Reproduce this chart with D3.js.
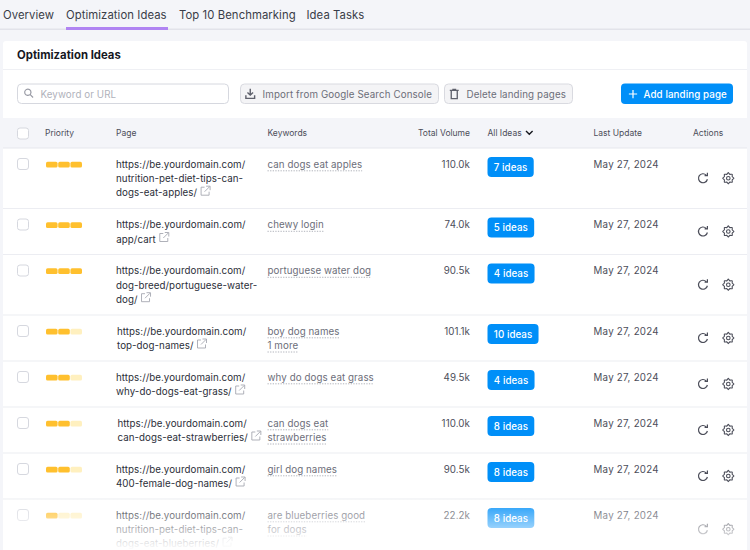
<!DOCTYPE html>
<html>
<head>
<meta charset="utf-8">
<script src="https://cdn.jsdelivr.net/npm/d3@7"></script>
<style>
  html, body { margin: 0; padding: 0; background: #f4f5f9; overflow: hidden; }
  svg { display: block; }
  text { font-family: Inter, "Noto Sans", sans-serif; }
</style>
</head>
<body>
<div id="chart"></div>
<script>
const tabs = ["Overview", "Optimization Ideas", "Top 10 Benchmarking", "Idea Tasks"];
const columns = ["Priority", "Page", "Keywords", "Total Volume", "All Ideas", "Last Update", "Actions"];
const pages = [
  ["https://be.yourdomain.com/", "nutrition-pet-diet-tips-can-", "dogs-eat-apples/"],
  ["https://be.yourdomain.com/", "app/cart"],
  ["https://be.yourdomain.com/", "dog-breed/portuguese-water-", "dog/"],
  ["https://be.yourdomain.com/", "top-dog-names/"],
  ["https://be.yourdomain.com/", "why-do-dogs-eat-grass/"],
  ["https://be.yourdomain.com/", "can-dogs-eat-strawberries/"],
  ["https://be.yourdomain.com/", "400-female-dog-names/"],
  ["https://be.yourdomain.com/", "nutrition-pet-diet-tips-can-", "dogs-eat-blueberries/"]
];
const keywords = [
  ["can dogs eat apples"],
  ["chewy login"],
  ["portuguese water dog"],
  ["boy dog names", "1 more"],
  ["why do dogs eat grass"],
  ["can dogs eat", "strawberries"],
  ["girl dog names"],
  ["are blueberries good", "for dogs"]
];
const volumes = ["110.0k", "74.0k", "90.5k", "101.1k", "49.5k", "110.0k", "90.5k", "22.2k"];
const ideas = [7, 5, 4, 10, 4, 8, 8, 8];
const priority = [3, 3, 3, 2, 2, 2, 2, 1];
const updated = "May 27, 2024";

const width = 750;
const height = 550;

const svg = d3.select("#chart").append("svg")
  .attr("width", width)
  .attr("height", height)
  .attr("viewBox", `0 0 ${width} ${height}`);

const ink = "#2b2e38";
const line = "#e6e7ee";
const blue = "#008ff8";
const bodySize = 9.75;

// Icons, on a 16 unit grid
const icons = {
  search: "M6.7 1.5a5.2 5.2 0 1 0 3.1 9.4l3.6 3.6 1.2-1.2-3.6-3.6a5.2 5.2 0 0 0-4.3-8.2zm0 1.7a3.5 3.5 0 1 1 0 7 3.5 3.5 0 0 1 0-7z",
  download: "M7.1 1.5h1.8v6.3l2.1-2.1 1.2 1.2L8 11 3.8 6.9 5 5.7l2.1 2.1zM1.5 10h1.8v3h9.4v-3h1.8v4.8h-13z",
  trash: "M5.5 1.5h5v1.5h3.2v1.6h-1V15H3.3V4.6h-1V3h3.2zM5 4.6v8.8h6V4.6z",
  plus: "M7.2 2.5h1.6v4.7h4.7v1.6H8.8v4.7H7.2V8.8H2.5V7.2h4.7z"
};

function icon(g, name, x, y, size, fill) {
  g.append("path")
    .attr("d", icons[name])
    .attr("transform", `translate(${x},${y}) scale(${size / 16})`)
    .attr("fill", fill);
}

function label(g, str, x, y, size, fill, opts = {}) {
  return g.append("text")
    .attr("x", x)
    .attr("y", y)
    .attr("font-size", size)
    .attr("fill", fill)
    .attr("font-weight", opts.weight || 400)
    .attr("letter-spacing", opts.spacing || 0)
    .attr("text-anchor", opts.anchor || "start")
    .text(str);
}

// Tabs
const tabX = [3, 66, 179, 306.5];
tabs.forEach((t, i) => label(svg, t, tabX[i], 19, 11.3, "#3a3d48", { spacing: 0.08 }));
svg.append("rect").attr("x", 0).attr("y", 28.5).attr("width", width).attr("height", 1.5).attr("fill", "#e2e3ea");
svg.append("rect").attr("x", 66).attr("y", 27).attr("width", 102).attr("height", 3).attr("fill", "#b084f2");

// Card
svg.append("rect")
  .attr("x", 3).attr("y", 41).attr("width", 744).attr("height", 560).attr("rx", 3)
  .attr("fill", "#fff");
svg.append("rect").attr("x", 3).attr("y", 69).attr("width", 744).attr("height", 1).attr("fill", "#eff0f4");
label(svg, "Optimization Ideas", 17, 59, 11.3, "#16181f", { weight: 700, spacing: 0.03 });

// Toolbar
const toolbar = svg.append("g");
toolbar.append("rect")
  .attr("x", 17.5).attr("y", 84).attr("width", 211).attr("height", 19.5).attr("rx", 4)
  .attr("fill", "#fff").attr("stroke", "#d6d8df");
icon(toolbar, "search", 23, 87.5, 11.5, "#9a9ca6");
label(toolbar, "Keyword or URL", 40.5, 97.5, bodySize, "#b0b2bb", { spacing: 0.1 });

[[240.5, 198, "download", "Import from Google Search Console", 262.5],
 [444.5, 128, "trash", "Delete landing pages", 466.5]].forEach(([x, w, ic, str, tx]) => {
  toolbar.append("rect")
    .attr("x", x).attr("y", 84).attr("width", w).attr("height", 19.5).attr("rx", 4)
    .attr("fill", "#f4f4f6").attr("stroke", "#d9dae0");
  icon(toolbar, ic, x + 3.5, 87.5, 12.5, "#5f616c");
  label(toolbar, str, tx, 97.5, bodySize, "#6c6e79", { spacing: 0.12 });
});
toolbar.append("rect")
  .attr("x", 621).attr("y", 83.5).attr("width", 112).attr("height", 20.5).attr("rx", 4)
  .attr("fill", blue);
icon(toolbar, "plus", 627, 88, 12, "#fff");
label(toolbar, "Add landing page", 643.5, 97.5, bodySize, "#fff", { weight: 500, spacing: 0.1 });

// Table header
const colX = [45, 116, 267.5, 470, 487.5, 593.5, 693];
svg.append("rect").attr("x", 3).attr("y", 118).attr("width", 744).attr("height", 30).attr("fill", "#f4f5f9");
svg.append("rect").attr("x", 3).attr("y", 147.5).attr("width", 744).attr("height", 1).attr("fill", line);
svg.append("rect")
  .attr("x", 17.5).attr("y", 128).attr("width", 11).attr("height", 11).attr("rx", 2.5)
  .attr("fill", "#fff").attr("stroke", "#d6d8df");
columns.forEach((c, i) => {
  label(svg, c, colX[i], 135.5, 8.5, "#4c4e5a", { anchor: i === 3 ? "end" : "start" });
});
svg.append("path")
  .attr("d", "M526 131l3.3 3.3 3.3-3.3")
  .attr("fill", "none").attr("stroke", "#16181f").attr("stroke-width", 1.4);

// Priority meter scale: 3 segments
const meterX = d3.scaleBand().domain([0, 1, 2]).range([46, 82]).paddingInner(0.05);
const pageNudge = [0, 0.3, 0, 1, 0, 1.5, 0, 0];

// Rows: height follows the number of page lines
const rowHeights = pages.map(p => (p.length === 3 ? 60.5 : 46));
const rowTops = d3.cumsum([148, ...rowHeights]);
const gearShape = d3.lineRadial()
  .angle((d, k) => k * Math.PI / 8)
  .radius((d, k) => (k % 2 ? 4.2 : 5.6))
  .curve(d3.curveCardinalClosed.tension(0.6));

const rows = svg.selectAll(".row")
  .data(pages.map((p, i) => i))
  .join("g")
  .attr("class", "row")
  .attr("transform", i => `translate(0,${rowTops[i]})`);

rows.each(function (i) {
  const g = d3.select(this);

  // row separator
  g.append("rect").attr("x", 3).attr("y", rowHeights[i] - 0.5).attr("width", 744).attr("height", 1).attr("fill", "#ecedf2");

  g.append("rect")
    .attr("x", 17.5).attr("y", 10.5).attr("width", 11).attr("height", 11).attr("rx", 2.5)
    .attr("fill", "#fff").attr("stroke", "#d6d8df");

  // priority meter
  [0, 1, 2].forEach(k => {
    g.append("rect")
      .attr("x", meterX(k)).attr("y", 13.8)
      .attr("width", meterX.bandwidth()).attr("height", 5.7).attr("rx", 1.6)
      .attr("fill", k < priority[i] ? "#ffc02e" : "#fff0bf");
  });

  // page url
  const px = colX[1] + pageNudge[i];
  pages[i].forEach((l, j) => {
    label(g, l, px, 19.8 + j * 14.2, bodySize, ink, { spacing: 0.05 });
  });
  // external link icon after the last line
  const last = pages[i][pages[i].length - 1];
  const probe = label(g, last, px, 0, bodySize, "none", { spacing: 0.05 });
  const tw = probe.node().getComputedTextLength();
  probe.remove();
  const ex = px + tw + 3.5;
  const ey = 19.8 + (pages[i].length - 1) * 14.2 - 10;
  g.append("path")
    .attr("d", `M${ex + 4} ${ey + 1}h-3.5v8h8v-3.5M${ex + 5.5} ${ey}h4v4M${ex + 9} ${ey + 0.5}l-5 5`)
    .attr("fill", "none").attr("stroke", "#a6a8b1").attr("stroke-width", 0.9);

  // keywords with dotted underline
  keywords[i].forEach((k, j) => {
    const y = 19.8 + j * 14.2;
    const t = label(g, k, colX[2], y, bodySize, "#6c6e79", { spacing: 0.08 });
    const w = t.node().getComputedTextLength();
    g.append("line")
      .attr("x1", colX[2]).attr("x2", colX[2] + w)
      .attr("y1", y + 3).attr("y2", y + 3)
      .attr("stroke", "#a9abb4").attr("stroke-width", 0.9).attr("stroke-dasharray", "1.3,1.3");
  });

  label(g, volumes[i], colX[3], 19.8, bodySize, "#4c4e5a", { anchor: "end", spacing: 0.08 });

  // ideas pill
  const pill = g.append("g");
  const pt = label(pill, `${ideas[i]} ideas`, colX[4] + 6.3, 22.8, bodySize, "#fff", { weight: 500, spacing: 0.05 });
  const pw = pt.node().getComputedTextLength() + 12.6;
  pill.insert("rect", "text")
    .attr("x", colX[4]).attr("y", 9).attr("width", pw).attr("height", 20).attr("rx", 4)
    .attr("fill", blue);

  label(g, updated, colX[5], 19.8, bodySize, "#4c4e5a", { spacing: 0.25 });

  // actions: refresh and settings, centred in the row
  const mid = rowHeights[i] / 2;
  g.append("path")
    .attr("transform", `translate(703,${mid})`)
    .attr("d", "M4.4 1A4.5 4.5 0 1 1 3.2 -3.2M4.4 -5.4V-2.6H1.6")
    .attr("fill", "none").attr("stroke", "#4c4e5a").attr("stroke-width", 1.2);
  const gear = g.append("g").attr("transform", `translate(728.3,${mid})`);
  gear.append("path")
    .attr("d", gearShape(d3.range(16)))
    .attr("fill", "none").attr("stroke", "#4c4e5a").attr("stroke-width", 1.1);
  gear.append("circle").attr("r", 1.8).attr("fill", "none").attr("stroke", "#4c4e5a").attr("stroke-width", 1.1);
});

// Bottom fade over the last row
const defs = svg.append("defs");
const fade = defs.append("linearGradient").attr("id", "fade").attr("x1", 0).attr("x2", 0).attr("y1", 0).attr("y2", 1);
fade.append("stop").attr("offset", "0%").attr("stop-color", "#fff").attr("stop-opacity", 0);
fade.append("stop").attr("offset", "100%").attr("stop-color", "#fff").attr("stop-opacity", 1);
svg.append("rect").attr("x", 3).attr("y", 496).attr("width", 744).attr("height", 54).attr("fill", "url(#fade)");
</script>
</body>
</html>
